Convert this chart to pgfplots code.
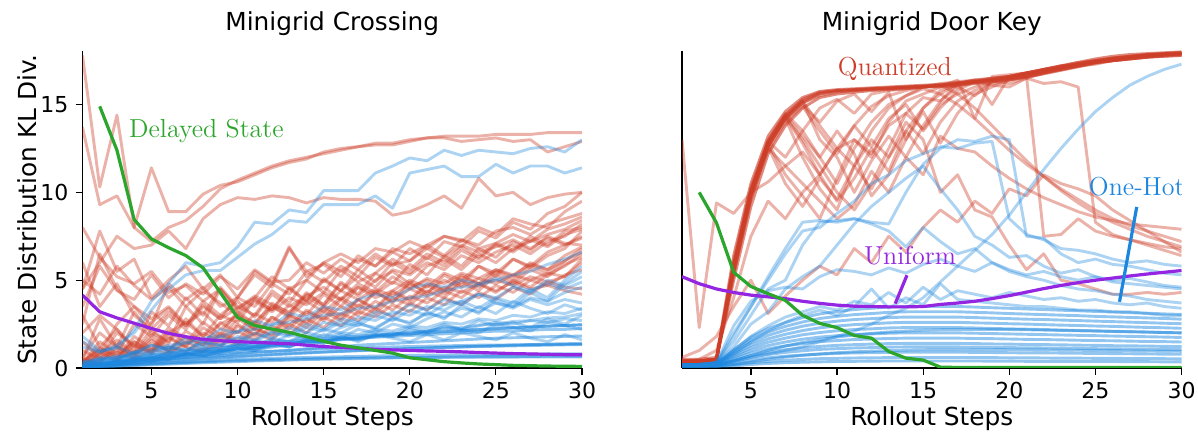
\documentclass[border=0pt]{standalone}
\usepackage{pgfplots}
\pgfplotsset{compat=1.18}
\usepackage{pgfplotstable}
\usepackage{fontspec}
\setsansfont{DejaVu Sans}

\definecolor{qred}{RGB}{205,62,40}
\definecolor{ohblue}{RGB}{28,134,222}
\definecolor{dsgreen}{RGB}{44,165,44}
\definecolor{unipurple}{RGB}{148,38,226}

% ---------------- Left panel: Quantized (red) -----------------
\pgfplotstableread{
name 1 2 3 4 5 6 7 8 9 10 11 12 13 14 15 16 17 18 19 20 21 22 23 24 25 26 27 28 29 30
r1 17.8 10.3 14.4 8.0 7.2 8.0 8.4 9.2 10.2 10.7 11.1 11.5 11.8 12.0 12.2 12.4 12.6 12.8 12.8 13.0 13.1 13.2 13.2 13.2 13.3 13.3 13.3 13.4 13.4 13.4
r2 13.7 9.3 9.8 8.0 11.4 8.9 8.9 9.9 10.4 10.6 11.0 11.4 11.7 11.9 12.3 12.5 12.6 12.7 12.7 12.9 13.1 13.1 12.9 13.0 13.1 12.9 13.0 12.3 12.6 12.9
r3 4.5 6.0 7.5 6.8 7.0 7.8 6.8 8.5 9.3 9.7 9.6 9.8 9.7 9.4 9.7 9.6 9.6 9.5 8.7 8.9 9.3 9.8 9.1 10.8 9.8 10.0 9.3 9.7 9.9 10.0
r4 0.3 1.5 0.8 2.5 1.8 3.0 2.2 3.5 2.8 4.0 3.5 4.8 4.2 5.5 4.9 5.8 5.2 6.3 5.8 6.8 6.2 7.2 6.9 7.8 7.4 8.3 7.9 8.8 9.2 10.0
r5 0.5 2.8 1.2 3.2 2.0 1.5 3.5 2.5 4.5 3.2 4.0 5.2 4.5 5.0 6.0 5.5 6.2 5.8 6.8 6.5 7.0 7.5 7.2 8.0 7.6 8.5 8.2 8.0 8.9 9.5
r6 4.5 7.8 5.5 6.2 4.0 5.0 5.8 4.5 5.3 4.0 5.5 4.8 6.9 5.2 6.0 6.5 6.0 6.8 6.6 7.2 6.8 7.5 7.3 7.0 7.8 8.0 7.6 8.2 8.5 8.8
r7 0.2 0.8 1.6 0.9 2.2 1.4 2.8 1.8 2.5 3.0 2.2 3.5 3.0 4.2 3.6 4.8 4.1 5.0 5.5 4.8 5.8 6.2 5.6 6.5 6.0 6.8 7.2 7.6 7.9 8.4
r8 2.0 3.0 2.2 1.2 2.6 3.4 2.4 3.8 3.0 2.6 3.9 3.3 4.5 3.8 5.0 4.4 5.2 4.6 5.6 5.3 6.0 5.6 6.4 6.0 6.6 7.0 6.5 7.2 7.5 8.2
r9 0.4 1.0 0.5 1.8 1.1 2.3 1.7 1.3 2.6 2.0 3.1 2.6 3.6 3.0 4.2 3.5 4.6 4.0 4.4 5.0 4.6 5.4 5.0 5.8 5.4 6.2 5.7 6.4 6.8 7.8
r10 5.0 4.2 5.8 4.7 3.9 4.6 3.5 4.4 3.7 3.0 3.8 3.2 4.0 3.6 4.3 3.9 4.6 4.2 4.9 4.5 5.1 4.8 5.4 5.1 5.6 5.3 5.9 5.6 6.1 6.8
r11 0.6 2.0 1.2 0.8 1.7 1.0 2.1 1.5 1.1 2.4 1.8 2.9 2.2 3.2 2.7 3.5 3.0 3.8 3.3 4.1 3.7 4.4 4.0 4.8 4.3 5.0 4.6 5.3 5.8 6.5
r12 8.0 6.3 5.2 4.8 5.5 4.3 4.7 3.8 4.5 3.4 4.1 3.6 3.2 4.0 3.5 4.4 3.9 4.5 4.1 4.8 4.3 5.0 4.6 5.1 4.8 5.3 5.0 5.4 5.2 6.2
r13 1.0 0.5 1.4 0.8 1.9 1.2 0.9 1.7 1.3 2.1 1.6 2.4 1.9 2.8 2.3 3.1 2.7 3.4 2.9 3.7 3.3 4.0 3.6 4.3 3.9 4.6 4.2 4.9 5.2 6.0
r14 3.5 5.8 4.4 3.9 5.3 4.0 4.8 4.2 5.2 4.5 5.6 4.9 5.0 6.0 5.4 6.2 5.6 6.5 5.9 6.1 6.8 6.3 7.0 6.6 6.9 7.3 6.8 7.4 7.0 7.5
r15 0.3 1.2 0.6 1.5 0.9 2.0 2.6 1.8 3.0 3.8 2.9 4.2 3.5 4.1 4.6 3.9 4.8 4.3 5.2 4.6 5.0 4.4 5.3 4.8 5.0 4.7 5.2 4.9 4.6 4.5
r16 2.5 6.5 4.5 3.5 2.8 3.5 2.5 3.2 2.2 3.0 2.6 3.5 2.9 3.8 3.2 4.0 3.5 4.3 3.8 4.5 4.1 4.6 4.3 4.8 4.4 4.9 4.5 4.7 4.4 4.2
r17 0.1 0.8 2.5 3.5 2.4 4.8 3.9 4.6 3.5 4.0 5.3 4.6 6.8 5.5 5.9 5.2 6.4 5.8 6.6 6.1 7.0 6.4 7.3 6.8 7.1 7.6 7.2 7.9 8.2 8.6
r18 1.5 0.6 2.0 1.3 0.9 1.8 1.2 2.3 1.7 2.8 2.2 1.9 3.0 2.5 3.4 2.8 3.9 3.3 4.3 3.8 4.7 4.2 5.0 4.6 5.5 5.0 5.8 5.4 6.1 6.6
r19 3.0 1.2 2.2 1.0 3.2 2.4 4.0 3.0 4.6 3.5 3.0 4.4 3.7 5.0 4.3 5.6 4.9 5.4 6.2 5.6 6.5 6.0 6.9 6.3 7.1 6.7 7.5 7.0 7.8 8.0
r20 0.2 0.6 1.0 0.7 1.4 1.0 1.8 1.3 2.0 1.6 2.6 2.1 3.0 2.6 3.5 3.0 3.9 3.4 4.4 3.9 4.8 4.4 5.2 4.8 5.6 5.2 6.0 5.6 6.4 6.9
r21 0.1 0.4 0.9 0.5 1.1 0.8 1.5 1.0 1.9 1.4 2.3 1.8 2.8 2.3 3.2 2.7 3.6 3.1 4.0 3.6 4.4 4.0 4.9 4.4 5.3 4.8 5.6 5.2 5.9 6.3
r22 0.3 1.1 0.7 1.5 1.0 2.1 1.4 2.6 1.9 3.2 2.5 3.7 3.1 4.3 3.6 4.9 4.2 5.4 4.8 5.9 5.3 6.4 5.8 6.8 6.3 7.2 6.7 7.5 7.1 7.0
r23 0.5 0.3 1.2 0.6 1.6 0.9 1.3 2.0 1.5 2.5 1.9 2.9 2.4 3.3 2.8 3.9 3.2 4.4 3.7 4.9 4.2 5.3 4.7 5.8 5.2 6.2 5.8 6.6 7.0 7.4
r24 0.2 0.9 0.4 1.3 0.8 1.7 1.2 0.9 1.6 1.3 2.0 1.6 2.5 2.0 2.9 2.4 3.2 2.9 3.6 3.2 4.0 3.6 4.4 4.0 4.7 4.3 5.0 4.7 5.3 5.6
r25 6.0 3.5 4.8 3.0 2.2 3.2 2.4 3.6 2.8 3.4 4.0 3.3 4.6 3.8 5.1 4.4 5.6 4.9 6.0 5.4 6.3 5.8 6.7 6.2 7.0 6.6 7.3 6.9 7.6 7.9
}\tmpLR
\pgfplotstabletranspose[colnames from=name, input colnames to=x]{\LeftRed}{\tmpLR}

% ---------------- Left panel: One-Hot (blue) -----------------
\pgfplotstableread{
name 1 2 3 4 5 6 7 8 9 10 11 12 13 14 15 16 17 18 19 20 21 22 23 24 25 26 27 28 29 30
b1 1.8 1.0 1.1 2.2 3.8 4.8 6.0 5.8 6.0 6.9 8.3 8.2 9.0 8.85 10.1 10.1 10.1 11.1 11.5 11.96 11.8 12.4 12.1 12.4 12.3 12.2 12.5 12.6 12.3 13.0
b2 1.2 0.9 1.3 2.0 3.3 4.5 5.3 5.55 5.55 6.3 7.06 7.6 8.4 8.3 9.3 9.3 9.3 9.8 9.1 11.1 11.3 11.5 10.9 10.9 11.6 11.1 11.5 11.5 11.1 11.4
b3 0.05 0.1 0.15 0.2 0.25 0.3 0.35 0.4 0.45 0.5 0.52 0.55 0.58 0.6 0.62 0.64 0.66 0.68 0.7 0.72 0.73 0.74 0.75 0.76 0.77 0.78 0.79 0.8 0.8 0.8
b4 0.05 0.15 0.25 0.35 0.45 0.55 0.62 0.7 0.78 0.85 0.9 0.95 1.0 1.05 1.1 1.12 1.15 1.18 1.2 1.22 1.24 1.26 1.28 1.3 1.3 1.32 1.33 1.34 1.35 1.35
b5 0.02 0.05 0.1 0.14 0.18 0.22 0.26 0.3 0.33 0.36 0.4 0.42 0.45 0.48 0.5 0.52 0.54 0.56 0.58 0.6 0.6 0.62 0.63 0.64 0.65 0.66 0.66 0.67 0.68 0.68
b6 0.1 0.2 0.35 0.5 0.6 0.7 0.8 0.9 1.0 1.1 1.2 1.3 1.4 1.5 1.55 1.6 1.7 1.75 1.8 1.85 1.9 1.95 2.0 2.05 2.1 2.1 2.15 2.2 2.2 2.25
b7 0.1 0.3 0.5 0.4 0.8 0.7 1.1 0.9 1.3 1.2 1.6 1.4 1.9 1.7 2.2 2.0 2.5 2.3 2.8 2.6 3.1 2.9 3.4 3.2 3.7 3.5 4.0 3.8 4.3 4.6
b8 0.2 0.4 0.3 0.6 0.5 0.9 0.7 1.1 1.0 1.4 1.2 1.7 1.5 2.0 1.8 2.3 2.6 2.2 2.9 2.5 3.2 2.8 3.6 3.1 3.9 3.5 4.3 3.8 4.8 5.5
b9 0.1 0.2 0.4 0.3 0.6 0.5 0.8 0.7 1.0 0.9 1.2 1.5 1.3 1.7 1.5 1.9 1.7 2.1 1.9 2.3 2.1 2.5 2.2 2.7 2.4 2.6 2.3 2.8 2.5 3.0
b10 0.3 0.5 0.7 0.6 0.9 1.2 1.0 1.4 1.3 1.7 1.5 2.0 1.8 2.3 2.1 2.6 2.4 3.0 2.7 3.3 3.0 3.6 3.8 3.4 4.0 3.7 4.5 4.0 5.0 5.8
b11 0.1 0.3 0.2 0.5 0.4 0.7 0.6 0.9 0.8 1.1 1.0 1.3 1.2 1.5 1.4 1.7 1.6 1.9 1.8 2.2 2.0 2.4 2.2 2.0 2.5 2.3 2.1 2.6 2.4 2.2
b12 1.5 0.9 1.2 0.8 1.3 1.0 1.5 1.2 1.8 1.5 2.0 1.7 2.3 2.0 2.6 2.4 2.9 2.7 3.2 3.0 3.5 3.3 3.8 4.2 3.7 3.4 3.9 3.6 3.9 3.7
b13 0.2 0.5 0.6 0.9 1.0 1.3 1.4 1.7 1.8 2.1 2.2 2.5 2.6 2.8 3.0 3.1 3.4 3.5 3.8 4.0 4.1 4.4 4.6 4.7 5.0 5.3 5.5 5.9 6.2 6.6
b14 0.1 0.2 0.35 0.4 0.55 0.6 0.75 0.8 0.95 1.0 1.15 1.2 1.3 1.45 1.5 1.65 1.7 1.85 1.9 2.05 2.1 2.25 2.3 2.45 2.5 2.65 2.7 2.85 2.9 3.1
b15 0.0 0.1 0.2 0.3 0.4 0.5 0.6 0.65 0.7 0.8 0.9 0.95 1.0 1.1 1.15 1.2 1.3 1.35 1.4 1.45 1.5 1.55 1.6 1.65 1.7 1.72 1.75 1.78 1.8 1.82
b16 0.2 0.5 0.4 0.9 1.3 1.1 1.7 1.5 2.2 2.0 2.7 2.4 3.1 2.9 3.5 3.3 3.9 4.2 4.0 4.5 4.8 4.6 5.0 4.8 5.1 4.7 4.4 4.8 4.5 4.9
b17 0.1 0.3 0.2 0.4 0.6 0.5 0.8 0.7 0.9 1.2 1.0 1.4 1.2 1.6 1.9 1.7 2.2 2.0 2.5 2.3 2.8 3.2 2.9 3.5 3.1 3.8 3.4 3.1 3.6 3.3
b18 0.4 0.2 0.5 0.7 0.5 0.9 0.8 1.0 0.9 1.3 1.1 1.4 1.2 1.6 1.4 1.8 1.5 1.9 1.7 1.5 1.9 1.6 2.0 1.8 1.6 2.0 1.7 1.5 1.9 1.6
b19 0.05 0.12 0.2 0.28 0.36 0.44 0.5 0.56 0.62 0.68 0.73 0.78 0.83 0.88 0.92 0.96 1.0 1.04 1.07 1.1 1.13 1.16 1.19 1.22 1.24 1.26 1.28 1.3 1.32 1.34
b20 0.08 0.18 0.3 0.42 0.54 0.66 0.78 0.9 1.0 1.1 1.2 1.3 1.4 1.48 1.56 1.64 1.72 1.8 1.87 1.94 2.0 2.06 2.12 2.18 2.23 2.28 2.33 2.38 2.42 2.46
b21 0.03 0.07 0.12 0.17 0.22 0.27 0.31 0.35 0.39 0.42 0.45 0.48 0.5 0.52 0.54 0.56 0.57 0.58 0.59 0.6 0.6 0.61 0.61 0.62 0.62 0.62 0.63 0.63 0.63 0.63
b22 0.1 0.25 0.4 0.55 0.7 0.82 0.95 1.05 1.15 1.25 1.35 1.45 1.52 1.6 1.68 1.75 1.82 1.88 1.94 2.0 2.05 2.1 2.15 2.2 2.25 2.3 2.34 2.38 2.42 2.46
b23 0.2 0.4 0.6 0.8 0.7 1.0 0.9 1.2 1.1 1.4 1.3 1.6 1.5 1.8 1.7 2.0 1.9 2.2 2.1 2.4 2.3 2.6 2.5 2.8 2.7 3.0 2.9 3.2 3.1 3.4
b24 0.1 0.2 0.3 0.5 0.4 0.6 0.8 0.7 0.9 1.1 1.0 1.2 1.4 1.3 1.5 1.7 1.6 1.8 2.0 1.9 2.1 2.3 2.2 2.4 2.6 2.5 2.7 2.6 2.8 2.7
b25 0.05 0.1 0.18 0.25 0.32 0.4 0.46 0.52 0.58 0.64 0.7 0.75 0.8 0.85 0.9 0.94 0.98 1.02 1.06 1.1 1.14 1.18 1.21 1.24 1.27 1.3 1.33 1.36 1.38 1.4
b26 0.3 0.6 0.5 0.9 0.8 1.2 1.0 1.5 1.3 1.8 1.6 2.1 1.9 2.5 2.2 2.8 2.6 3.2 3.0 3.6 3.3 3.9 3.6 4.2 4.0 4.6 4.3 5.0 4.7 5.2
}\tmpLB
\pgfplotstabletranspose[colnames from=name, input colnames to=x]{\LeftBlue}{\tmpLB}

% ---------------- Right panel: Quantized (red) -----------------
\pgfplotstableread{
name 1 2 3 4 5 6 7 8 9 10 11 12 13 14 15 16 17 18 19 20 21 22 23 24 25 26 27 28 29 30
k1 0.4 0.4 0.5 5.9 10.0 12.9 14.4 15.3 15.7 15.8 15.85 15.9 15.95 16.0 16.05 16.1 16.2 16.3 16.4 16.5 16.7 16.9 17.1 17.3 17.5 17.65 17.75 17.85 17.9 17.95
k2 0.3 0.3 0.4 5.4 9.6 12.6 14.2 15.1 15.6 15.75 15.8 15.85 15.9 15.95 16.0 16.05 16.15 16.25 16.35 16.45 16.6 16.8 17.0 17.2 17.4 17.55 17.7 17.8 17.85 17.9
k3 0.5 0.5 0.6 6.4 10.5 13.2 14.6 15.4 15.75 15.85 15.9 15.95 16.0 16.05 16.1 16.15 16.25 16.35 16.45 16.6 16.8 17.0 17.2 17.4 17.6 17.75 17.85 17.9 17.95 18.0
k4 0.4 0.4 0.5 5.0 9.2 12.2 13.8 14.8 15.4 15.6 15.7 15.8 15.85 15.9 16.0 16.0 16.1 16.2 16.3 16.4 16.55 16.75 16.95 17.15 17.35 17.5 17.6 17.7 17.75 17.8
k5 0.35 0.35 0.45 5.7 9.8 12.8 14.3 15.2 15.65 15.8 15.85 15.9 15.95 16.0 16.05 16.1 16.2 16.3 16.4 16.55 16.75 16.95 17.15 17.35 17.5 17.65 17.75 17.85 17.9 17.95
k6 0.3 0.3 0.5 5.5 9.8 12.7 14.2 12.0 10.2 9.0 11.5 13.5 14.8 15.5 16.0 16.2 16.3 16.4 16.5 16.6 16.8 17.0 17.2 17.4 17.5 17.6 17.7 17.8 17.85 17.9
k7 0.4 0.4 0.5 6.0 10.2 12.8 11.0 9.8 8.5 10.8 13.0 12.0 14.0 15.2 15.6 16.0 16.4 14.2 16.6 16.7 16.8 17.0 17.2 17.3 17.4 17.5 17.6 17.7 17.75 17.8
k8 0.4 0.4 0.5 5.7 10.0 12.6 14.3 13.0 11.5 10.0 9.0 10.5 12.5 14.5 15.4 15.2 16.0 16.3 16.1 16.0 16.5 16.8 17.1 17.2 17.4 17.5 17.6 17.7 17.8 17.85
k9 0.3 0.3 0.5 5.8 10.1 12.9 14.3 15.2 13.0 12.0 10.0 11.8 13.2 12.0 13.8 15.2 16.2 16.4 15.0 16.6 16.8 16.9 17.0 17.2 17.3 17.5 17.6 17.7 17.8 17.9
k10 0.4 0.4 0.5 5.6 9.9 12.5 11.5 10.5 9.5 8.5 9.3 11.2 10.0 12.0 11.0 13.2 12.5 12.3 11.5 10.8 10.2 9.7 9.3 8.9 8.6 8.4 8.2 8.1 8.0 7.9
k11 0.4 0.4 0.5 6.1 10.3 13.0 14.5 13.5 12.0 10.5 12.5 14.0 15.0 15.5 15.9 15.6 15.0 14.2 13.3 12.4 11.6 10.9 10.2 9.6 9.0 8.5 8.1 7.8 7.5 7.2
k12 0.3 0.3 0.5 5.3 9.7 12.4 14.0 14.9 13.5 12.2 13.8 14.9 15.5 15.8 16.0 16.1 16.2 16.3 16.4 16.5 16.6 7.5 7.6 8.5 7.8 7.5 7.3 7.1 6.9 6.8
k13 0.4 0.4 0.5 5.9 10.0 12.9 12.0 13.5 14.8 15.3 14.5 15.6 15.8 15.9 16.0 16.1 16.0 15.5 16.3 16.2 16.5 16.2 16.3 16.0 8.3 7.6 7.3 7.0 6.7 6.4
k14 0.3 0.5 1.0 4.0 7.5 9.5 8.5 10.0 11.0 12.5 11.5 13.0 12.0 14.0 13.0 10.0 11.0 9.0 8.6 7.0 5.6 6.5 5.0 4.8 4.5 4.2 4.2 4.3 4.2 4.3
k15 0.4 0.4 0.5 5.8 10.1 12.9 14.4 13.2 12.0 13.5 12.2 9.8 11.0 13.0 14.6 12.8 14.5 15.6 16.0 16.4 16.6 16.8 17.0 17.2 17.4 17.5 17.65 17.75 17.8 17.9
k16 0.4 0.4 0.5 5.6 9.9 12.6 14.1 15.0 14.0 15.2 15.6 14.6 15.7 13.0 14.8 15.8 16.1 16.3 16.4 16.5 16.7 16.9 17.1 17.3 17.45 17.6 17.7 17.8 17.85 17.9
k17 13.0 2.3 9.4 8.8 10.0 10.6 11.5 12.3 11.0 12.5 13.0 12.2 13.8 14.5 13.6 15.0 15.6 16.0 16.3 16.5 16.7 16.9 17.1 17.3 17.5 17.6 17.7 17.8 17.9 17.95
k18 0.6 1.0 1.8 3.5 5.0 3.1 4.1 5.0 5.8 5.3 6.8 6.0 7.5 6.6 8.0 9.0 8.3 9.5 8.8 10.2 9.8 11.0 10.5 10.2 9.8 9.0 8.4 7.8 7.2 6.6
k19 0.4 0.4 0.5 5.8 10.0 12.8 14.3 12.8 11.0 9.5 10.8 12.5 11.2 13.5 14.8 15.6 16.2 16.4 16.5 16.6 16.8 17.0 17.2 17.3 17.45 17.6 17.7 17.8 17.85 17.9
k20 0.4 0.4 0.5 5.9 10.1 12.9 14.4 15.2 13.8 12.5 13.8 12.6 14.2 15.0 13.5 14.8 15.8 16.3 16.5 16.6 16.8 17.0 17.1 17.3 17.4 17.55 17.7 17.8 17.85 17.9
k21 0.3 0.3 0.5 5.6 9.9 12.6 10.5 9.2 10.8 9.6 11.5 10.2 12.0 13.5 12.2 14.0 15.2 15.8 16.2 16.4 16.6 16.8 17.0 17.2 17.4 17.5 17.6 17.7 17.8 17.85
k22 0.4 0.4 0.5 5.7 10.0 12.7 14.2 15.1 15.5 15.7 15.8 15.9 15.9 16.0 16.0 16.1 15.6 14.8 13.8 12.8 11.8 10.9 10.1 9.4 8.8 8.3 7.9 7.5 7.2 6.9
}\tmpRR
\pgfplotstabletranspose[colnames from=name, input colnames to=x]{\RightRed}{\tmpRR}

% ---------------- Right panel: One-Hot (blue) -----------------
\pgfplotstableread{
name 1 2 3 4 5 6 7 8 9 10 11 12 13 14 15 16 17 18 19 20 21 22 23 24 25 26 27 28 29 30
h1 0.2 0.2 0.3 1.5 3.0 4.5 5.0 7.0 8.3 8.4 8.5 8.3 8.2 10.0 11.6 12.5 13.0 12.9 13.2 13.0 7.5 7.4 6.5 6.0 6.2 5.9 5.8 5.6 5.4 5.3
h2 0.2 0.2 0.3 2.0 3.5 5.0 6.5 7.8 8.0 8.8 9.5 10.5 11.0 11.8 12.2 12.6 12.5 12.8 12.9 8.5 7.6 7.3 6.8 6.7 6.5 6.2 6.0 6.1 5.9 5.8
h3 0.2 0.2 0.3 1.2 2.5 3.2 4.5 5.2 5.8 7.0 8.2 9.2 10.0 10.8 11.5 10.2 9.0 7.5 7.0 6.3 6.4 5.8 5.4 5.6 5.2 5.0 5.1 4.9 4.7 4.6
h4 0.2 0.2 0.3 2.4 3.8 4.4 4.6 4.5 5.2 5.6 5.5 5.3 5.7 5.4 5.9 6.2 5.8 5.5 6.0 5.6 5.3 5.5 5.2 5.0 5.2 4.9 4.8 4.7 4.6 4.5
h5 0.2 0.2 0.3 1.8 3.5 5.2 6.8 8.3 8.4 8.3 8.5 8.2 7.8 6.9 8.0 7.2 6.5 6.8 6.0 5.5 5.2 5.0 4.7 4.5 4.4 4.2 4.1 3.9 3.8 3.7
h6 0.2 0.2 0.3 1.0 1.8 2.4 2.9 3.2 3.5 3.3 3.8 3.6 4.3 3.7 4.6 3.9 4.4 4.2 4.0 4.3 4.1 3.9 4.0 3.8 3.9 3.7 3.6 3.7 3.5 3.4
h7 0.2 0.2 0.3 0.8 1.5 2.1 2.6 3.0 3.3 3.0 3.5 4.5 3.4 4.0 3.6 4.8 3.9 3.8 3.7 3.6 3.5 3.5 3.4 3.3 3.3 3.2 3.2 3.1 3.0 3.0
h8 0.1 0.1 0.2 0.4 0.6 0.8 1.0 1.2 1.5 1.8 2.1 2.5 3.0 3.4 4.0 4.9 5.8 6.7 7.6 8.7 10.0 11.3 12.5 13.6 14.6 15.4 16.1 16.6 17.0 17.3
h9 0.08 0.08 0.09 0.12 0.2 0.26 0.3 0.33 0.35 0.37 0.38 0.39 0.4 0.4 0.4 0.4 0.4 0.4 0.39 0.39 0.38 0.38 0.38 0.37 0.37 0.37 0.36 0.36 0.35 0.35
h10 0.1 0.1 0.1 0.18 0.3 0.38 0.44 0.49 0.53 0.55 0.57 0.58 0.59 0.6 0.6 0.6 0.6 0.59 0.59 0.58 0.58 0.57 0.56 0.56 0.55 0.55 0.54 0.53 0.53 0.52
h11 0.1 0.1 0.12 0.27 0.45 0.58 0.67 0.74 0.79 0.83 0.86 0.87 0.89 0.9 0.9 0.9 0.9 0.89 0.88 0.87 0.86 0.86 0.85 0.84 0.83 0.82 0.81 0.8 0.79 0.78
h12 0.1 0.1 0.12 0.2 0.35 0.5 0.62 0.72 0.8 0.87 0.92 0.96 0.99 1.02 1.04 1.05 1.05 1.05 1.05 1.04 1.04 1.03 1.02 1.01 1.0 0.99 0.98 0.97 0.96 0.95
h13 0.12 0.12 0.14 0.36 0.6 0.77 0.89 0.98 1.06 1.1 1.14 1.16 1.19 1.2 1.2 1.2 1.2 1.19 1.18 1.16 1.15 1.14 1.13 1.12 1.1 1.09 1.08 1.07 1.06 1.04
h14 0.12 0.12 0.15 0.42 0.7 0.9 1.04 1.15 1.23 1.29 1.33 1.36 1.39 1.4 1.4 1.4 1.4 1.39 1.37 1.36 1.34 1.33 1.32 1.3 1.29 1.27 1.26 1.25 1.23 1.22
h15 0.14 0.14 0.17 0.51 0.85 1.09 1.26 1.39 1.5 1.56 1.62 1.65 1.68 1.7 1.7 1.7 1.7 1.68 1.67 1.65 1.63 1.62 1.6 1.58 1.56 1.55 1.53 1.51 1.5 1.48
h16 0.15 0.15 0.18 0.6 1.0 1.28 1.48 1.64 1.76 1.84 1.9 1.94 1.98 2.0 2.0 2.0 2.0 1.98 1.96 1.94 1.92 1.9 1.88 1.86 1.84 1.82 1.8 1.78 1.76 1.74
h17 0.15 0.15 0.18 0.4 0.7 1.0 1.25 1.45 1.62 1.76 1.88 1.97 2.05 2.1 2.15 2.18 2.2 2.2 2.2 2.19 2.18 2.16 2.14 2.12 2.1 2.08 2.06 2.04 2.02 2.0
h18 0.15 0.15 0.2 0.69 1.15 1.47 1.7 1.89 2.02 2.12 2.19 2.23 2.28 2.3 2.3 2.3 2.3 2.28 2.25 2.23 2.21 2.19 2.16 2.14 2.12 2.09 2.07 2.05 2.02 2.0
h19 0.16 0.16 0.2 0.78 1.3 1.66 1.92 2.13 2.29 2.39 2.47 2.52 2.57 2.6 2.6 2.6 2.6 2.57 2.55 2.52 2.5 2.47 2.44 2.42 2.39 2.37 2.34 2.31 2.29 2.26
h20 0.17 0.17 0.22 0.87 1.45 1.86 2.15 2.38 2.55 2.67 2.76 2.81 2.87 2.9 2.9 2.9 2.9 2.87 2.84 2.81 2.78 2.76 2.73 2.7 2.67 2.64 2.61 2.58 2.55 2.52
h21 0.18 0.18 0.22 0.96 1.6 2.05 2.37 2.62 2.82 2.94 3.04 3.1 3.17 3.2 3.2 3.2 3.2 3.17 3.14 3.1 3.07 3.04 3.01 2.98 2.94 2.91 2.88 2.85 2.82 2.78
h22 0.18 0.18 0.24 1.05 1.75 2.24 2.59 2.87 3.08 3.22 3.33 3.4 3.47 3.5 3.5 3.5 3.5 3.47 3.43 3.4 3.36 3.33 3.29 3.26 3.22 3.19 3.15 3.12 3.08 3.05
}\tmpRB
\pgfplotstabletranspose[colnames from=name, input colnames to=x]{\RightBlue}{\tmpRB}

\pgfplotsset{
  myax/.style={
    scale only axis, width=249.75pt, height=158.5pt,
    xmin=1, xmax=30, ymin=0, ymax=18.05,
    axis lines=left, axis line style={-, line width=0.7pt},
    xtick={5,10,15,20,25,30}, tick align=outside,
    major tick length=3.5pt,
    tick style={black, line width=0.6pt},
    every tick label/.append style={font=\sffamily\fontsize{11}{13}\selectfont},
    /pgf/number format/assume math mode=true,
    label style={font=\sffamily\fontsize{12.4}{15}\selectfont},
    xlabel style={yshift=3pt},
    ylabel style={yshift=-5pt},
    title style={font=\sffamily\fontsize{12.4}{15}\selectfont, at={(0.5,1)}, anchor=south, yshift=-2pt},
    xlabel={Rollout Steps},
    clip=true, no markers,
    every axis plot/.append style={line join=round},
  },
  redthin/.style={color=qred, opacity=0.4, line width=1.45pt},
  redbund/.style={color=qred, opacity=0.6, line width=1.45pt},
  bluethin/.style={color=ohblue, opacity=0.36, line width=1.45pt},
  bluedense/.style={color=ohblue, opacity=0.48, line width=1.45pt},
}

\begin{document}
\begin{tikzpicture}
% ================= Left =================
\begin{axis}[myax, at={(0pt,0pt)}, anchor=south west,
  title={Minigrid Crossing},
  ylabel={State Distribution KL Div.},
  ytick={0,5,10,15}]
\pgfplotsinvokeforeach{r1,r2,r3,r4,r5,r6,r7,r8,r9,r10,r11,r12,r13,r14,r15,r16,r17,r18,r19,r20,r21,r22,r23,r24,r25}{
  \addplot[redthin] table[x=x, y=#1]{\LeftRed};
}
\pgfplotsinvokeforeach{b1,b2,b7,b8,b9,b10,b11,b12,b13,b14,b16,b17,b18,b23,b24,b26}{
  \addplot[bluethin] table[x=x, y=#1]{\LeftBlue};
}
\pgfplotsinvokeforeach{b3,b4,b5,b6,b15,b19,b20,b21,b22,b25}{
  \addplot[bluedense] table[x=x, y=#1]{\LeftBlue};
}
\addplot[unipurple, line width=1.6pt] coordinates {
(1,4.15)(2,3.2)(3,2.85)(4,2.55)(5,2.25)(6,1.97)(7,1.78)(8,1.63)(9,1.55)(10,1.5)
(11,1.46)(12,1.42)(13,1.38)(14,1.3)(15,1.22)(16,1.17)(17,1.12)(18,1.07)(19,1.03)(20,1.0)
(21,0.97)(22,0.95)(23,0.92)(24,0.88)(25,0.85)(26,0.82)(27,0.8)(28,0.78)(29,0.76)(30,0.75)};
\addplot[dsgreen, line width=1.6pt] coordinates {
(2,14.9)(3,12.4)(4,8.45)(5,7.35)(6,6.85)(7,6.4)(8,5.7)(9,4.3)(10,2.88)
(11,2.42)(12,2.22)(13,2.03)(14,1.78)(15,1.52)(16,1.3)(17,1.15)(18,1.0)(19,0.85)(20,0.58)
(21,0.47)(22,0.36)(23,0.29)(24,0.23)(25,0.19)(26,0.15)(27,0.13)(28,0.11)(29,0.1)(30,0.09)};
\node[font=\fontsize{13}{15}\selectfont, text=dsgreen, anchor=west] at (axis cs:3.3,13.5) {Delayed State};
\end{axis}

% ================= Right =================
\begin{axis}[myax, at={(299.75pt,0pt)}, anchor=south west,
  title={Minigrid Door Key},
  ytick=\empty]
\pgfplotsinvokeforeach{k6,k7,k8,k9,k10,k11,k12,k13,k14,k15,k16,k17,k18,k19,k20,k21,k22}{
  \addplot[redthin] table[x=x, y=#1]{\RightRed};
}
\pgfplotsinvokeforeach{k1,k2,k3,k4,k5}{
  \addplot[redbund] table[x=x, y=#1]{\RightRed};
}
\pgfplotsinvokeforeach{h1,h2,h3,h4,h5,h6,h7,h8}{
  \addplot[bluethin] table[x=x, y=#1]{\RightBlue};
}
\pgfplotsinvokeforeach{h9,h10,h11,h12,h13,h14,h15,h16,h17,h18,h19,h20,h21,h22}{
  \addplot[bluedense] table[x=x, y=#1]{\RightBlue};
}
\addplot[unipurple, line width=1.6pt] coordinates {
(1,5.2)(2,4.8)(3,4.5)(4,4.3)(5,4.15)(6,4.05)(7,3.95)(8,3.8)(9,3.68)(10,3.58)
(11,3.52)(12,3.5)(13,3.48)(14,3.48)(15,3.5)(16,3.62)(17,3.7)(18,3.8)(19,3.95)(20,4.12)
(21,4.32)(22,4.52)(23,4.7)(24,4.86)(25,5.0)(26,5.12)(27,5.24)(28,5.35)(29,5.45)(30,5.55)};
\addplot[dsgreen, line width=1.6pt] coordinates {
(2,10.0)(3,8.27)(4,5.45)(5,4.64)(6,4.23)(7,3.85)(8,3.0)(9,2.54)(10,2.3)
(11,1.85)(12,1.7)(13,0.94)(14,0.56)(15,0.45)(16,0.05)(17,0.03)(18,0.03)(19,0.03)(20,0.03)
(21,0.03)(22,0.03)(23,0.03)(24,0.03)(25,0.03)(26,0.03)(27,0.03)(28,0.03)(29,0.03)(30,0.03)};
\addplot[unipurple, line width=1.6pt] coordinates {(14.06,5.28)(13.38,3.67)};
\addplot[ohblue, line width=1.6pt] coordinates {(27.4,9.17)(26.4,3.77)};
\node[font=\fontsize{13}{15}\selectfont, text=qred] at (axis cs:13.36,17.05) {Quantized};
\node[font=\fontsize{13}{15}\selectfont, text=unipurple] at (axis cs:14.24,6.4) {Uniform};
\node[font=\fontsize{13}{15}\selectfont, text=ohblue] at (axis cs:27.4,10.3) {One-Hot};
\end{axis}
\pgfresetboundingbox
\useasboundingbox (-41.25pt,-35pt) rectangle (557.75pt,184pt);
\end{tikzpicture}
\end{document}
